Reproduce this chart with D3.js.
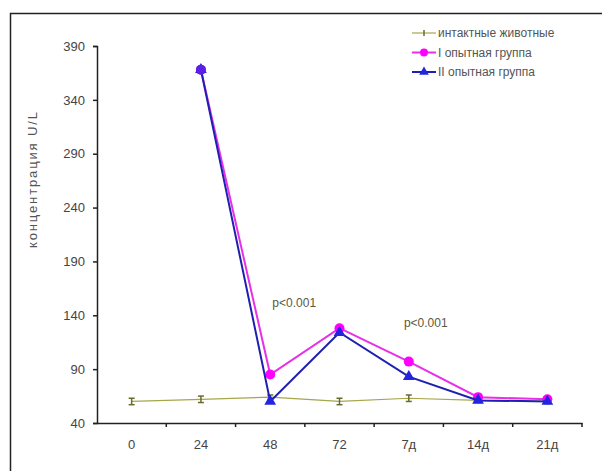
<!DOCTYPE html>
<html>
<head>
<meta charset="utf-8">
<script src="https://cdn.jsdelivr.net/npm/d3@7"></script>
<style>
  body { margin: 0; background: #fff; }
  svg { display: block; font-family: "Liberation Sans", Arial, sans-serif; }
</style>
</head>
<body>
<div id="chart"></div>
<script>
// categories (hours, then days)
const categories = ['0', '24', '48', '72', '7д', '14д', '21д'];

// series values, U/L
const intact = [60, 62, 64, 60, 63, 61, 60];
const intactErr = [3, 3, 2, 3, 3, 2, 2];
const group1 = [null, 368, 85, 128, 97, 64, 62];
const group2 = [null, 368, 60, 124, 83, 61, 60];

const yTicks = [40, 90, 140, 190, 240, 290, 340, 390];

const legendLabels = ['интактные животные', 'I опытная группа', 'II опытная группа'];
const notes = [
    { cat: '48', value: 148, text: 'p<0.001', dx: 24 },
    { cat: '7д', value: 129, text: 'p<0.001', dx: 17 }
];

const W = 602, H = 471;
const svg = d3.select('#chart').append('svg').attr('width', W).attr('height', H);

// outer frame (chart area border, right/bottom run off the picture)
svg.append('rect')
    .attr('x', 10.5).attr('y', 13.5)
    .attr('width', 600).attr('height', 480)
    .attr('fill', 'none').attr('stroke', '#222').attr('stroke-width', 1.5);

const x = d3.scaleBand().domain(categories).range([97, 582]).padding(0);
const y = d3.scaleLinear().domain([40, 390]).range([423, 46]);
const cx = c => x(c) + x.bandwidth() / 2;

// y axis
const yAxis = svg.append('g')
    .attr('transform', 'translate(97,0)')
    .call(d3.axisLeft(y).tickValues(yTicks).tickSize(4).tickPadding(8));
yAxis.select('.domain').attr('stroke', '#222').attr('stroke-width', 1.5);
yAxis.selectAll('.tick line').attr('stroke', '#222').attr('stroke-width', 1.5);
yAxis.selectAll('text').attr('font-size', 13).attr('fill', '#444');

// x axis: labels centred, ticks at category boundaries
const xAxis = svg.append('g')
    .attr('transform', 'translate(0,423)')
    .call(d3.axisBottom(x).tickSize(0).tickPadding(17));
xAxis.select('.domain').attr('stroke', '#222').attr('stroke-width', 1.5);
xAxis.selectAll('text').attr('font-size', 13).attr('fill', '#444');
xAxis.selectAll('line.bound')
    .data(categories.slice(1).map(c => x(c)).concat([x.range()[1]]))
    .enter().append('line')
    .attr('class', 'bound')
    .attr('x1', d => d).attr('x2', d => d)
    .attr('y1', 0).attr('y2', 4)
    .attr('stroke', '#222').attr('stroke-width', 1.5);

// y axis title
svg.append('text')
    .attr('transform', 'translate(37,180) rotate(-90)')
    .attr('text-anchor', 'middle')
    .attr('font-size', 13)
    .attr('textLength', 136)
    .attr('lengthAdjust', 'spacing')
    .attr('fill', '#555')
    .text('концентрация U/L');

const line = d3.line()
    .defined(d => d.v != null)
    .x(d => cx(d.c))
    .y(d => y(d.v));
const toPts = arr => arr.map((v, i) => ({ c: categories[i], v: v }));

// intact animals
const intactPts = toPts(intact);
svg.append('path').datum(intactPts)
    .attr('d', line).attr('fill', 'none')
    .attr('stroke', '#a6a64a').attr('stroke-width', 1.2);
const err = svg.append('g').selectAll('g')
    .data(intactPts.map((d, i) => ({ ...d, e: intactErr[i] })))
    .enter().append('g')
    .attr('stroke', '#6b6b2e').attr('stroke-width', 1.5);
err.append('line')
    .attr('x1', d => cx(d.c)).attr('x2', d => cx(d.c))
    .attr('y1', d => y(d.v - d.e)).attr('y2', d => y(d.v + d.e));
err.append('line')
    .attr('x1', d => cx(d.c) - 3).attr('x2', d => cx(d.c) + 3)
    .attr('y1', d => y(d.v - d.e)).attr('y2', d => y(d.v - d.e));
err.append('line')
    .attr('x1', d => cx(d.c) - 3).attr('x2', d => cx(d.c) + 3)
    .attr('y1', d => y(d.v + d.e)).attr('y2', d => y(d.v + d.e));

// group I (magenta, circles)
const g1 = toPts(group1);
svg.append('path').datum(g1)
    .attr('d', line).attr('fill', 'none')
    .attr('stroke', '#e830e8').attr('stroke-width', 2);
svg.append('g').selectAll('circle')
    .data(g1.filter(d => d.v != null))
    .enter().append('circle')
    .attr('cx', d => cx(d.c)).attr('cy', d => y(d.v))
    .attr('r', 5).attr('fill', '#ff00ff');

// group II (blue, triangles)
const g2 = toPts(group2);
svg.append('path').datum(g2)
    .attr('d', line).attr('fill', 'none')
    .attr('stroke', '#1f1fb0').attr('stroke-width', 2);
const tri = d3.symbol().type(d3.symbolTriangle).size(60);
svg.append('g').selectAll('path')
    .data(g2.filter(d => d.v != null))
    .enter().append('path')
    .attr('d', tri)
    .attr('transform', d => `translate(${cx(d.c)},${y(d.v)})`)
    .attr('fill', '#2323e0');
// the top point at 24 reads as a blended circle
svg.append('circle')
    .attr('cx', cx('24')).attr('cy', y(group2[1]))
    .attr('r', 5).attr('fill', '#5a20e8');

// significance notes
svg.append('g').selectAll('text')
    .data(notes)
    .enter().append('text')
    .attr('x', d => cx(d.cat) + d.dx)
    .attr('y', d => y(d.value))
    .attr('text-anchor', 'middle')
    .attr('font-size', 12)
    .attr('fill', '#5a5a40')
    .text(d => d.text);

// legend
const legendStyle = [
    { stroke: '#a6a64a', fill: '#6b6b2e', shape: 'plus' },
    { stroke: '#e830e8', fill: '#ff00ff', shape: 'circle' },
    { stroke: '#1f1fb0', fill: '#2323e0', shape: 'triangle' }
];
const legend = svg.append('g').selectAll('g')
    .data(legendLabels)
    .enter().append('g')
    .attr('transform', (d, i) => `translate(412,${33 + i * 19.5})`);
legend.append('line')
    .attr('x1', 0).attr('x2', 24).attr('y1', 0).attr('y2', 0)
    .attr('stroke', (d, i) => legendStyle[i].stroke)
    .attr('stroke-width', (d, i) => i === 0 ? 1.2 : 2);
legend.each(function (d, i) {
    const g = d3.select(this);
    const s = legendStyle[i];
    if (s.shape === 'circle') {
        g.append('circle').attr('cx', 12).attr('r', 4).attr('fill', s.fill);
    } else if (s.shape === 'triangle') {
        g.append('path').attr('d', d3.symbol().type(d3.symbolTriangle).size(40))
            .attr('transform', 'translate(12,0)').attr('fill', s.fill);
    } else {
        g.append('line').attr('x1', 12).attr('x2', 12).attr('y1', -3).attr('y2', 3)
            .attr('stroke', s.fill).attr('stroke-width', 1.5);
    }
});
legend.append('text')
    .attr('x', 26).attr('y', 4)
    .attr('font-size', 12)
    .attr('fill', '#555')
    .text(d => d);
</script>
</body>
</html>
